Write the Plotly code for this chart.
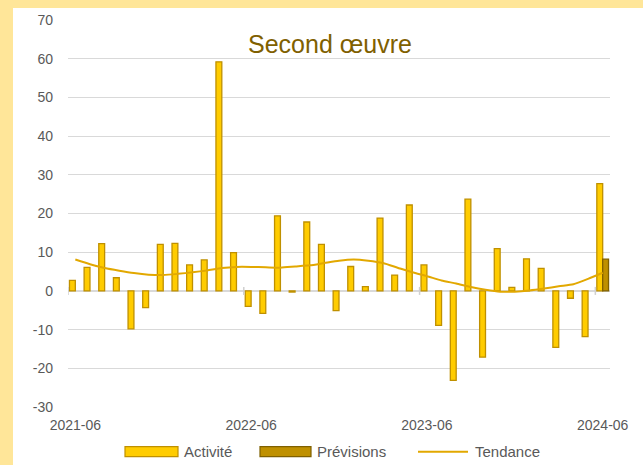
import plotly.graph_objects as go

months = ["2021-06", "2021-07", "2021-08", "2021-09", "2021-10", "2021-11", "2021-12",
          "2022-01", "2022-02", "2022-03", "2022-04", "2022-05", "2022-06", "2022-07",
          "2022-08", "2022-09", "2022-10", "2022-11", "2022-12", "2023-01", "2023-02",
          "2023-03", "2023-04", "2023-05", "2023-06", "2023-07", "2023-08", "2023-09",
          "2023-10", "2023-11", "2023-12", "2024-01", "2024-02", "2024-03", "2024-04",
          "2024-05", "2024-06"]

activite = [2.7, 6.1, 12.2, 3.4, -9.8, -4.3, 12.0, 12.3, 6.7, 8.0, 59.2, 9.9,
            -4.0, -5.8, 19.4, -0.3, 17.8, 12.0, -5.1, 6.3, 1.1, 18.8, 4.1, 22.2,
            6.7, -8.9, -23.1, 23.7, -17.1, 10.9, 0.9, 8.3, 5.8, -14.6, -1.9, -11.8,
            27.7]

previsions = [None] * 36 + [8.2]

tendance = [8.1, 6.9, 5.9, 5.2, 4.6, 4.2, 4.1, 4.4, 4.8, 5.3, 5.9, 6.2,
            6.2, 6.1, 6.0, 6.3, 6.6, 7.2, 7.8, 8.1, 7.8, 7.2, 6.0, 4.8,
            3.8, 2.7, 1.9, 1.0, 0.3, -0.2, -0.2, 0.1, 0.6, 1.2, 1.7, 3.1, 4.7]

tick_labels = ["2021-06", "2022-06", "2023-06", "2024-06"]
y_ticks = [-30, -20, -10, 0, 10, 20, 30, 40, 50, 60, 70]
y_tick_text = ["-30", "-20", "-10", "0", "10", "20", "30", "40", "50", "60", "70"]
boundary_idx = [-0.5, 11.5, 23.5, 35.5]

title_text = "Second œuvre"
legend_names = ["Activité", "Prévisions", "Tendance"]

C_ACT = "#FFCC00"
C_ACT_LINE = "#BF9000"
C_PREV = "#BF9000"
C_PREV_LINE = "#7F6000"
C_TREND = "#E2A800"
TXT = "#595959"
FONT = "Liberation Sans, Arial, sans-serif"

fig = go.Figure()
fig.add_trace(go.Bar(x=months, y=activite, name=legend_names[0],
                     marker=dict(color=C_ACT, line=dict(color=C_ACT_LINE, width=1.3)),
                     showlegend=False))
fig.add_trace(go.Bar(x=months, y=previsions, name=legend_names[1],
                     marker=dict(color=C_PREV, line=dict(color=C_PREV_LINE, width=1.3)),
                     showlegend=False))
fig.add_trace(go.Scatter(x=months, y=tendance, name=legend_names[2], mode="lines",
                         line=dict(color=C_TREND, width=2, shape="spline", smoothing=0.6),
                         showlegend=False))

L, R, T, B = 68, 33, 17, 58
W, H = 643, 465
pw, ph = W - L - R, H - T - B

def px_x(p):
    return (p - L) / pw

def px_y(p):
    return (H - B - p) / ph

shapes = []
shapes.append(dict(type="rect", xref="paper", yref="paper",
                   x0=px_x(13), x1=px_x(W + 2), y0=px_y(H + 2), y1=px_y(5),
                   fillcolor="white", line=dict(width=0), layer="below"))
for b in boundary_idx:
    shapes.append(dict(type="line", xref="x", yref="y", x0=b, x1=b,
                       ysizemode="pixel", yanchor=0, y0=-4, y1=4,
                       line=dict(color="#D0D0D0", width=1.5)))

ly0, ly1 = px_y(447), px_y(457)
ymid = px_y(452)
shapes.append(dict(type="rect", xref="paper", yref="paper", x0=px_x(125), x1=px_x(178),
                   y0=ly1, y1=ly0, fillcolor=C_ACT, line=dict(color=C_ACT_LINE, width=1.2)))
shapes.append(dict(type="rect", xref="paper", yref="paper", x0=px_x(260), x1=px_x(311),
                   y0=ly1, y1=ly0, fillcolor=C_PREV, line=dict(color=C_PREV_LINE, width=1.2)))
shapes.append(dict(type="line", xref="paper", yref="paper", x0=px_x(418), x1=px_x(468),
                   y0=ymid, y1=ymid, line=dict(color=C_TREND, width=2)))

annotations = [
    dict(text=title_text, xref="paper", yref="paper", x=px_x(330), y=px_y(41),
         xanchor="center", yanchor="middle", showarrow=False,
         font=dict(family=FONT, size=25, color="#7F6000")),
]
for name, xl in zip(legend_names, [182, 315, 473]):
    annotations.append(dict(text=name, xref="paper", yref="paper", x=px_x(xl), y=ymid,
                            xanchor="left", yanchor="middle", showarrow=False,
                            font=dict(family=FONT, size=15, color=TXT)))

fig.update_layout(
    width=W, height=H,
    margin=dict(l=L, r=R, t=T, b=B, pad=0),
    paper_bgcolor="#FFE699",
    plot_bgcolor="white",
    barmode="group", bargap=0.2, bargroupgap=0,
    font=dict(family=FONT, color=TXT),
    shapes=shapes,
    annotations=annotations,
    showlegend=False,
)
fig.update_xaxes(type="category", range=[-0.5, 36.5], tickmode="array",
                 tickvals=tick_labels, ticktext=tick_labels, showgrid=False,
                 showline=False, ticks="", tickfont=dict(size=14, color=TXT),
                 ticklabelstandoff=8, zeroline=False)
fig.update_yaxes(range=[-30, 70], tickmode="array", tickvals=y_ticks, ticktext=y_tick_text,
                 showgrid=True, gridcolor="#D9D9D9", gridwidth=1, zeroline=True,
                 zerolinecolor="#D9D9D9", zerolinewidth=1.5, showline=False,
                 ticks="", tickfont=dict(size=14, color=TXT), ticklabelstandoff=14)

fig.write_html("out.html", config={"displayModeBar": False},
               post_script="document.body.style.margin='0';document.body.style.padding='0';")
